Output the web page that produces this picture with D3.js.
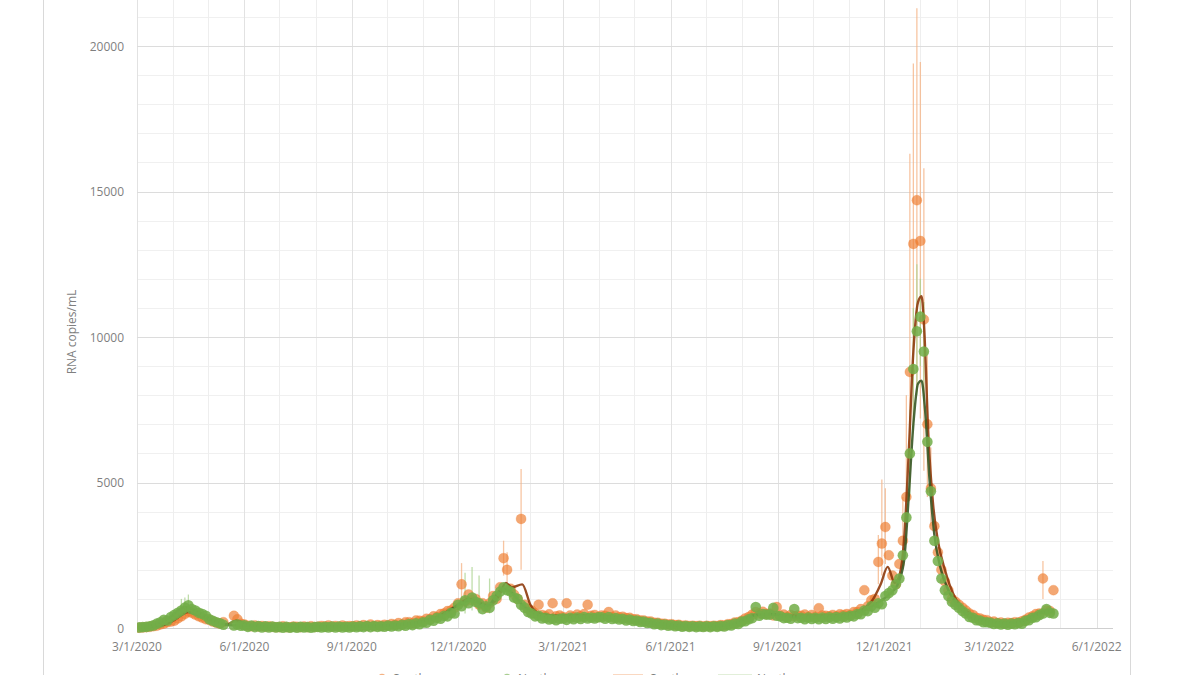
<!DOCTYPE html>
<html><head><meta charset="utf-8">
<script src="https://cdn.jsdelivr.net/npm/d3@7"></script>
<style>html,body{margin:0;padding:0;background:#fff;overflow:hidden}</style>
</head><body>
<svg id="chart" width="1200" height="675"></svg>
<script>
// ---------------- DATA ----------------
// samples every 3 days, starting 2020-03-03
const sampleStart = "2020-03-03";
const sampleStepDays = 3;

const southern = [
  /*Mar20*/ 10, 20, 30, 40, 60, 80, 120, 150, 200, 220,
  /*Apr20*/ 250, 330, 400, 480, 560, 520, 460, 400, 350, 300,
  /*May20*/ 280, 220, 180, 150, 200, null, null, 420, 300, 150,
  /*Jun20*/ 120, 80, 60, 90, 50, 70, 40, 60, 40, 30,
  /*Jul20*/ 30, 60, 30, 25, 50, 40, 30, 55, 30, 60, 35,
  /*Aug20*/ 45, 70, 50, 90, 45, 70, 40, 85, 50, 65,
  /*Sep20*/ 60, 90, 70, 100, 65, 120, 70, 100, 80, 110,
  /*Oct20*/ 90, 140, 110, 170, 120, 200, 200, 160, 260, 250,
  /*Nov20*/ 230, 320, 300, 400, 380, 480, 500, 580, 600, 700,
  /*Dec20*/ 850, 1500, 900, 1150, 950, 1000, 800, 850, 700, 850, 1100,
  /*Jan21*/ 1000, 1400, 2400, 2000, 1350, 1150, 1000, 3750, 800, 650,
  /*Feb21*/ 600, 500, 800, 450, 400, 470, 850, 400, 430,
  /*Mar21*/ 380, 850, 430, 380, 460, 400, 480, 800, 420, 450, 380,
  /*Apr21*/ 430, 420, 550, 380, 430, 370, 390, 340, 350, 300,
  /*May21*/ 300, 260, 260, 220, 220, 180, 180, 150, 150, 120,
  /*Jun21*/ 130, 100, 110, 80, 90, 70, 80, 65, 80, 55,
  /*Jul21*/ 75, 60, 80, 70, 100, 90, 130, 140, 190, 200,
  /*Aug21*/ 250, 330, 380, 460, 550, 500, 560, 480, 500, 430, 720,
  /*Sep21*/ 420, 460, 380, 450, 400, 430, 420, 460, 380, 450,
  /*Oct21*/ 380, 680, 430, 420, 400, 450, 400, 470, 450, 480,
  /*Nov21*/ 450, 550, 550, 650, 1300, 750, 950, 1000, 2270, 2900,
  /*Dec21*/ 3470, 2500, 1800, 1500, 2200, 3000, 4500, 8800, 13200, 14700,
  /*Jan22*/ 13300, 10600, 7000, 4800, 3500, 2600, 2000, 1600, 1300, 1000, 900,
  /*Feb22*/ 800, 700, 600, 500, 450, 350, 330, 280, 270,
  /*Mar22*/ 200, 220, 170, 190, 150, 180, 170, 200, 190, 230,
  /*Apr22*/ 280, 360, 400, 480, 500, 1700, 600, 580, 1300
];

const northern = [
  /*Mar20*/ 20, 30, 40, 60, 90, 150, 200, 280, 260, 380,
  /*Apr20*/ 450, 520, 600, 700, 780, 650, 600, 520, 480, 420,
  /*May20*/ 300, 250, 200, 160, 110, null, null, 90, 120, 80,
  /*Jun20*/ 90, 40, 80, 30, 70, 20, 60, 20, 50, 20,
  /*Jul20*/ 40, 10, 40, 10, 35, 10, 40, 15, 35, 10, 30,
  /*Aug20*/ 40, 15, 40, 20, 50, 15, 50, 20, 40, 20,
  /*Sep20*/ 50, 25, 55, 30, 70, 30, 65, 40, 60, 45,
  /*Oct20*/ 80, 50, 85, 60, 110, 80, 140, 100, 160, 130,
  /*Nov20*/ 200, 180, 280, 250, 350, 320, 420, 400, 520, 500,
  /*Dec20*/ 800, 750, 950, 850, 1050, 900, 850, 650, 750, 700, 950,
  /*Jan21*/ 1100, 1250, 1400, 1300, 1250, 1050, 1000, 800, 700, 550,
  /*Feb21*/ 500, 400, 420, 330, 350, 290, 320, 270, 320,
  /*Mar21*/ 330, 280, 350, 300, 360, 310, 380, 330, 360, 330, 370,
  /*Apr21*/ 370, 320, 380, 310, 340, 290, 320, 260, 290, 240,
  /*May21*/ 260, 210, 220, 170, 180, 130, 150, 100, 120, 80,
  /*Jun21*/ 100, 60, 80, 45, 70, 40, 60, 30, 55, 35,
  /*Jul21*/ 60, 30, 60, 40, 70, 50, 100, 90, 150, 140,
  /*Aug21*/ 220, 230, 300, 340, 720, 420, 480, 460, 460, 690, 420,
  /*Sep21*/ 400, 340, 350, 320, 650, 340, 350, 300, 360, 310,
  /*Oct21*/ 350, 300, 360, 310, 370, 320, 380, 330, 390, 360,
  /*Nov21*/ 420, 400, 480, 470, 600, 580, 750, 700, 850, 820,
  /*Dec21*/ 1100, 1200, 1300, 1500, 1700, 2500, 3800, 6000, 8900, 10200,
  /*Jan22*/ 10700, 9500, 6400, 4700, 3000, 2300, 1700, 1300, 1100, 900, 800,
  /*Feb22*/ 700, 580, 500, 380, 350, 270, 260, 200, 200,
  /*Mar22*/ 180, 140, 160, 120, 150, 110, 150, 130, 170, 150,
  /*Apr22*/ 250, 270, 350, 370, 450, 500, 650, 520, 500
];

// error bars: [date, low, high]
const southernErr = [
  ["2020-12-04", 900, 2230], ["2021-01-09", 1800, 3000], ["2021-01-12", 1400, 2600],
  ["2021-01-24", 2000, 5460], ["2021-11-26", 1500, 3200], ["2021-11-29", 1800, 5100],
  ["2021-12-02", 2200, 4800], ["2021-12-17", 2000, 4500], ["2021-12-20", 3000, 8000],
  ["2021-12-23", 5000, 16300], ["2021-12-26", 7000, 19400], ["2021-12-29", 8100, 21300],
  ["2022-01-01", 7200, 19450], ["2022-01-04", 5400, 15800], ["2022-01-07", 4500, 9500],
  ["2022-01-10", 3500, 6200], ["2022-04-16", 1000, 2300]
];
const northernErr = [
  ["2020-04-08", 450, 1000], ["2020-04-11", 500, 1050], ["2020-04-14", 550, 1150],
  ["2020-12-07", 500, 1900], ["2020-12-13", 600, 2100], ["2020-12-19", 500, 1800],
  ["2020-12-28", 500, 1700], ["2021-12-23", 4500, 7500], ["2021-12-26", 6800, 11000],
  ["2021-12-29", 8000, 12500], ["2022-01-01", 9000, 12000], ["2022-01-04", 7800, 11200]
];

// 7 day average lines: [date, value]
const southernAvg = [
  ["2020-03-08", 20], ["2020-03-22", 80], ["2020-04-01", 250], ["2020-04-14", 550], ["2020-04-25", 400],
  ["2020-05-10", 180], ["2020-05-17", 130], ["2020-05-25", 250], ["2020-06-05", 100], ["2020-07-01", 40],
  ["2020-08-15", 45], ["2020-09-15", 65], ["2020-10-10", 120], ["2020-10-31", 230], ["2020-11-15", 420],
  ["2020-12-01", 800], ["2020-12-10", 1000], ["2020-12-16", 950], ["2020-12-26", 780], ["2021-01-05", 1100],
  ["2021-01-11", 1550], ["2021-01-16", 1400], ["2021-01-25", 1500], ["2021-02-01", 800], ["2021-02-10", 480],
  ["2021-02-25", 420], ["2021-03-15", 430], ["2021-04-10", 400], ["2021-05-01", 260], ["2021-05-25", 140],
  ["2021-06-15", 70], ["2021-07-10", 60], ["2021-07-25", 150], ["2021-08-12", 450], ["2021-08-25", 480],
  ["2021-09-10", 420], ["2021-10-15", 420], ["2021-11-05", 520], ["2021-11-20", 900], ["2021-11-28", 1500],
  ["2021-12-04", 2100], ["2021-12-10", 1550], ["2021-12-14", 1800], ["2021-12-18", 3000], ["2021-12-22", 6000],
  ["2021-12-26", 9500], ["2021-12-30", 11200], ["2022-01-02", 11400], ["2022-01-04", 10500], ["2022-01-08", 6500],
  ["2022-01-12", 4200], ["2022-01-16", 3000], ["2022-01-22", 2000], ["2022-01-30", 1100], ["2022-02-10", 560],
  ["2022-02-25", 260], ["2022-03-15", 170], ["2022-04-01", 280], ["2022-04-15", 550], ["2022-04-25", 600]
];
const northernAvg = [
  ["2020-03-08", 30], ["2020-03-25", 250], ["2020-04-12", 720], ["2020-04-20", 600], ["2020-05-05", 280],
  ["2020-05-15", 120], ["2020-05-25", 90], ["2020-06-15", 60], ["2020-07-15", 35], ["2020-08-15", 45],
  ["2020-09-15", 60], ["2020-10-15", 120], ["2020-11-01", 220], ["2020-11-15", 380], ["2020-12-01", 780],
  ["2020-12-12", 950], ["2020-12-26", 760], ["2021-01-08", 1350], ["2021-01-15", 1250], ["2021-01-25", 800],
  ["2021-02-05", 480], ["2021-02-20", 340], ["2021-03-15", 350], ["2021-04-10", 350], ["2021-05-01", 250],
  ["2021-05-25", 120], ["2021-06-15", 70], ["2021-07-10", 60], ["2021-07-25", 140], ["2021-08-12", 430],
  ["2021-08-25", 480], ["2021-09-15", 370], ["2021-10-15", 360], ["2021-11-05", 480], ["2021-11-25", 850],
  ["2021-12-05", 1150], ["2021-12-12", 1450], ["2021-12-18", 2300], ["2021-12-22", 4500], ["2021-12-26", 7000],
  ["2021-12-30", 8400], ["2022-01-02", 8500], ["2022-01-05", 7500], ["2022-01-09", 5000], ["2022-01-13", 3200],
  ["2022-01-18", 2100], ["2022-01-25", 1300], ["2022-02-05", 650], ["2022-02-20", 260], ["2022-03-15", 160],
  ["2022-04-01", 260], ["2022-04-15", 520], ["2022-04-25", 550]
];

const xTickLabels = ["3/1/2020", "6/1/2020", "9/1/2020", "12/1/2020", "3/1/2021", "6/1/2021",
                     "9/1/2021", "12/1/2021", "3/1/2022", "6/1/2022"];
const xDomain = ["2020-03-01", "2022-06-15"];
const yTickValues = [0, 5000, 10000, 15000, 20000];
const yMax = 22000;
const yTitle = "RNA copies/mL";
const legendLabels = ["Southern", "Northern", "South avg", "North avg"];

// ---------------- DRAW ----------------
const parse = d3.timeParse("%Y-%m-%d");
const parseTick = d3.timeParse("%m/%d/%Y");
const svg = d3.select("#chart");
const font = "'Open Sans', 'Liberation Sans', sans-serif";

const x = d3.scaleTime().domain(xDomain.map(parse)).range([137, 1113]);
const y = d3.scaleLinear().domain([0, 20000]).range([628, 46]);

// chart frame
svg.append("rect").attr("x", 43.5).attr("y", -5).attr("width", 1087).attr("height", 700)
  .attr("fill", "#fff").attr("stroke", "#d9d9d9").attr("stroke-width", 1);

// horizontal gridlines (minor every 1000, major every 5000)
const minorY = d3.range(1000, yMax + 1, 1000).filter(v => !yTickValues.includes(v));
svg.append("g").selectAll("line").data(minorY).join("line")
  .attr("x1", x.range()[0]).attr("x2", x.range()[1])
  .attr("y1", d => Math.round(y(d)) + 0.5).attr("y2", d => Math.round(y(d)) + 0.5)
  .attr("stroke", "#f0f0f0").attr("stroke-width", 1);

// vertical gridlines (monthly minor, quarterly major)
const [d0, d1] = x.domain();
const months = d3.timeMonth.range(d3.timeMonth.ceil(d0), d1);
const quarterDates = xTickLabels.map(parseTick);
svg.append("g").selectAll("line").data(months).join("line")
  .attr("x1", d => Math.round(x(d)) + 0.5).attr("x2", d => Math.round(x(d)) + 0.5)
  .attr("y1", y(yMax)).attr("y2", y(0))
  .attr("stroke", "#eeeeee").attr("stroke-width", 1);
svg.append("g").selectAll("line").data(quarterDates).join("line")
  .attr("x1", d => Math.round(x(d)) + 0.5).attr("x2", d => Math.round(x(d)) + 0.5)
  .attr("y1", y(yMax)).attr("y2", y(0))
  .attr("stroke", "#e2e2e2").attr("stroke-width", 1);

svg.append("g").selectAll("line").data(yTickValues.filter(v => v > 0)).join("line")
  .attr("x1", x.range()[0]).attr("x2", x.range()[1])
  .attr("y1", d => Math.round(y(d)) + 0.5).attr("y2", d => Math.round(y(d)) + 0.5)
  .attr("stroke", "#dcdcdc").attr("stroke-width", 1);

// axis line at 0
svg.append("line").attr("x1", x.range()[0]).attr("x2", x.range()[1])
  .attr("y1", Math.round(y(0)) + 0.5).attr("y2", Math.round(y(0)) + 0.5)
  .attr("stroke", "#cfcfcf").attr("stroke-width", 1);

// y axis labels
svg.append("g").selectAll("text").data(yTickValues).join("text")
  .attr("x", 124).attr("y", d => y(d) + 4.5)
  .attr("text-anchor", "end").attr("font-family", font).attr("font-size", 12)
  .attr("fill", "#7f7f7f").text(d => d);

// x axis labels
svg.append("g").selectAll("text").data(xTickLabels).join("text")
  .attr("x", d => x(parseTick(d))).attr("y", 651)
  .attr("text-anchor", "middle").attr("font-family", font).attr("font-size", 12)
  .attr("fill", "#7f7f7f").text(d => d);

// y title
svg.append("text").attr("transform", "translate(76,332) rotate(-90)")
  .attr("text-anchor", "middle").attr("font-family", font).attr("font-size", 12)
  .attr("fill", "#7f7f7f").text(yTitle);

// plot clip
svg.append("clipPath").attr("id", "clip").append("rect")
  .attr("x", x.range()[0]).attr("y", y(yMax)).attr("width", x.range()[1] - x.range()[0])
  .attr("height", y(0) - y(yMax) + 6);
const plot = svg.append("g").attr("clip-path", "url(#clip)");

const start = parse(sampleStart);
const toPts = arr => arr.map((v, i) => ({ date: d3.timeDay.offset(start, i * sampleStepDays), v }))
  .filter(d => d.v !== null);
const sPts = toPts(southern), nPts = toPts(northern);

// error bars
function drawErr(list, color) {
  plot.append("g").selectAll("line").data(list).join("line")
    .attr("x1", d => x(parse(d[0]))).attr("x2", d => x(parse(d[0])))
    .attr("y1", d => y(d[1])).attr("y2", d => y(d[2]))
    .attr("stroke", color).attr("stroke-width", 1.3).attr("stroke-opacity", 0.75);
}
drawErr(southernErr, "#F4B183");
drawErr(northernErr, "#A9D18E");

// markers
function drawDots(pts, color, fo, so, r) {
  plot.append("g").selectAll("circle").data(pts).join("circle")
    .attr("cx", d => x(d.date)).attr("cy", d => y(d.v)).attr("r", r)
    .attr("fill", color).attr("fill-opacity", fo)
    .attr("stroke", color).attr("stroke-opacity", so).attr("stroke-width", 0.8);
}
const line = d3.line().x(d => x(parse(d[0]))).y(d => y(d[1])).curve(d3.curveMonotoneX);

drawDots(sPts, "#ED7D31", 0.68, 0.3, 5);
// average lines sit between the two marker layers
plot.append("path").datum(southernAvg).attr("d", line).attr("fill", "none")
  .attr("stroke", "#8E3A0C").attr("stroke-width", 2.4).attr("stroke-opacity", 0.9);
plot.append("path").datum(northernAvg).attr("d", line).attr("fill", "none")
  .attr("stroke", "#375623").attr("stroke-width", 2.4).attr("stroke-opacity", 0.9);
drawDots(nPts, "#72AE48", 0.86, 0, 5.3);

// legend (mostly cut off at bottom of image, as in the source)
const lg = svg.append("g").attr("font-family", font).attr("font-size", 12).attr("fill", "#7f7f7f");
lg.append("circle").attr("cx", 382).attr("cy", 678).attr("r", 4.3).attr("fill", "#ED7D31").attr("fill-opacity", 0.6);
lg.append("text").attr("x", 393).attr("y", 683).text(legendLabels[0]);
lg.append("circle").attr("cx", 507).attr("cy", 678).attr("r", 4.3).attr("fill", "#70AD47").attr("fill-opacity", 0.6);
lg.append("text").attr("x", 518).attr("y", 683).text(legendLabels[1]);
lg.append("line").attr("x1", 613).attr("x2", 643).attr("y1", 676).attr("y2", 676).attr("stroke", "#F4B183").attr("stroke-width", 3);
lg.append("text").attr("x", 650).attr("y", 683).text(legendLabels[2]);
lg.append("line").attr("x1", 718).attr("x2", 752).attr("y1", 676).attr("y2", 676).attr("stroke", "#C5E0B4").attr("stroke-width", 3);
lg.append("text").attr("x", 757).attr("y", 683).text(legendLabels[3]);
</script>
</body></html>
